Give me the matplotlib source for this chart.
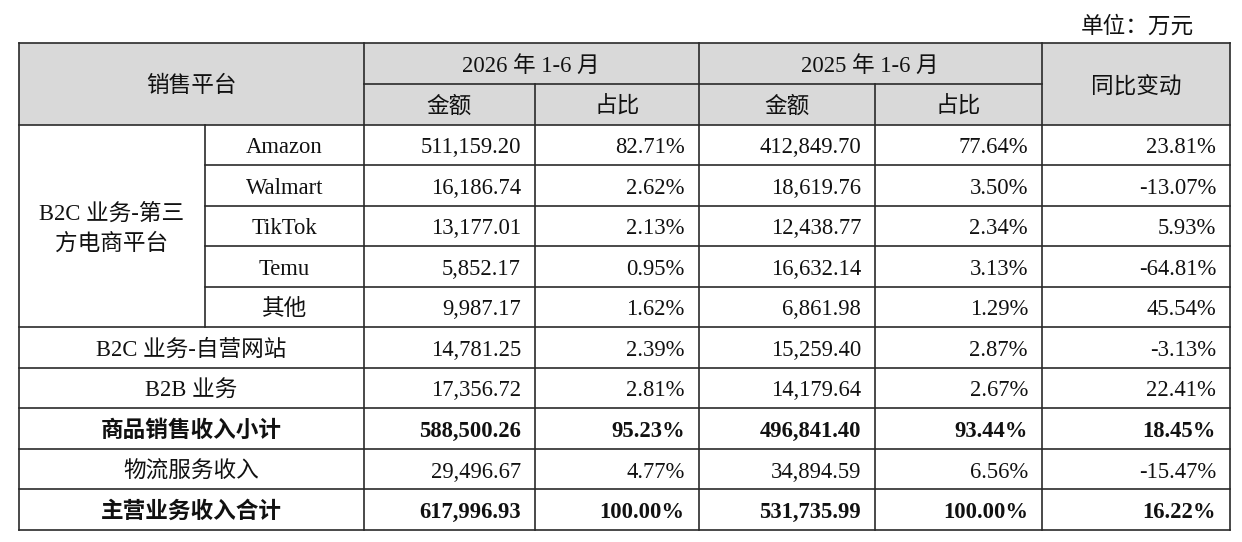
import matplotlib
matplotlib.use('Agg')
import matplotlib.pyplot as plt
from matplotlib.patches import Rectangle

plt.rcParams['font.family'] = ['Liberation Serif', 'Noto Sans CJK SC']

# table data (万元)
group_label = ['B2C 业务-第三', '方电商平台']
platforms = ['Amazon', 'Walmart', 'TikTok', 'Temu', '其他']
other_rows = ['B2C 业务-自营网站', 'B2B 业务', '商品销售收入小计', '物流服务收入', '主营业务收入合计']
bold_rows = ['商品销售收入小计', '主营业务收入合计']

amt_2026 = [511159.20, 16186.74, 13177.01, 5852.17, 9987.17,
            14781.25, 17356.72, 588500.26, 29496.67, 617996.93]
pct_2026 = [82.71, 2.62, 2.13, 0.95, 1.62, 2.39, 2.81, 95.23, 4.77, 100.00]
amt_2025 = [412849.70, 18619.76, 12438.77, 16632.14, 6861.98,
            15259.40, 14179.64, 496841.40, 34894.59, 531735.99]
pct_2025 = [77.64, 3.50, 2.34, 3.13, 1.29, 2.87, 2.67, 93.44, 6.56, 100.00]
yoy = [23.81, -13.07, 5.93, -64.81, 45.54, -3.13, 22.41, 18.45, -15.47, 16.22]

periods = ['2026 年 1-6 月', '2025 年 1-6 月']
sub_headers = ['金额', '占比']

# layout in pixels
col_x = [18.5, 205, 363.5, 535, 698.5, 875, 1042, 1230]
row_y = [43, 83.5, 124.5, 165, 205.5, 246, 286.5, 327, 367.5, 408, 449, 489, 530]
fs = 16.3
base_off = 8.6          # baseline offset below cell centre
txt_color = '#111111'
line_color = '#2a2a2a'
lw = 1.2
pad = 14

fig = plt.figure(figsize=(12.42, 5.42), dpi=100)
ax = fig.add_axes([0, 0, 1, 1])
ax.set_xlim(0, 1242)
ax.set_ylim(542, 0)
ax.axis('off')

# header background
ax.add_patch(Rectangle((col_x[0], row_y[0]), col_x[-1] - col_x[0], row_y[2] - row_y[0],
                       facecolor='#d9d9d9', edgecolor='none', zorder=0))

def hline(y, x0, x1):
    ax.plot([x0, x1], [y, y], color=line_color, lw=lw, solid_capstyle='projecting')

def vline(x, y0, y1):
    ax.plot([x, x], [y0, y1], color=line_color, lw=lw, solid_capstyle='projecting')

# horizontal rules
hline(row_y[0], col_x[0], col_x[-1])
hline(row_y[1], col_x[2], col_x[6])
hline(row_y[2], col_x[0], col_x[-1])
for i in range(3, 7):
    hline(row_y[i], col_x[1], col_x[-1])
for i in range(7, 13):
    hline(row_y[i], col_x[0], col_x[-1])

# vertical rules
vline(col_x[0], row_y[0], row_y[-1])
vline(col_x[1], row_y[2], row_y[7])
vline(col_x[2], row_y[0], row_y[-1])
vline(col_x[3], row_y[1], row_y[-1])
vline(col_x[4], row_y[0], row_y[-1])
vline(col_x[5], row_y[1], row_y[-1])
vline(col_x[6], row_y[0], row_y[-1])
vline(col_x[7], row_y[0], row_y[-1])

def cell_text(x, yc, s, ha='center', bold=False):
    ax.text(x, yc + base_off, s, ha=ha, va='baseline', fontsize=fs, color=txt_color,
            fontweight='bold' if bold else 'normal')

def mid(a, b):
    return (a + b) / 2

# unit note
cell_text(col_x[-1] - 36, 24, '单位：万元', ha='right')

# header
cell_text(mid(col_x[0], col_x[2]), mid(row_y[0], row_y[2]), '销售平台')
cell_text(mid(col_x[6], col_x[7]), mid(row_y[0], row_y[2]), '同比变动')
for k, p in enumerate(periods):
    c = 2 + 2 * k
    cell_text(mid(col_x[c], col_x[c + 2]), mid(row_y[0], row_y[1]), p)
    for j, sh in enumerate(sub_headers):
        cell_text(mid(col_x[c + j], col_x[c + j + 1]), mid(row_y[1], row_y[2]), sh)

# row labels
gc = mid(row_y[2], row_y[7])
for k, line in enumerate(group_label):
    cell_text(mid(col_x[0], col_x[1]), gc + (k - 0.5) * 30, line)
for i, name in enumerate(platforms):
    cell_text(mid(col_x[1], col_x[2]), mid(row_y[2 + i], row_y[3 + i]), name)
for i, name in enumerate(other_rows):
    r = 2 + len(platforms) + i
    cell_text(mid(col_x[0], col_x[2]), mid(row_y[r], row_y[r + 1]), name, bold=name in bold_rows)

# numbers
all_labels = platforms + other_rows
for i in range(len(amt_2026)):
    r = 2 + i
    yc = mid(row_y[r], row_y[r + 1])
    b = all_labels[i] in bold_rows
    vals = [f'{amt_2026[i]:,.2f}', f'{pct_2026[i]:.2f}%',
            f'{amt_2025[i]:,.2f}', f'{pct_2025[i]:.2f}%', f'{yoy[i]:.2f}%']
    for j, s in enumerate(vals):
        cell_text(col_x[3 + j] - pad, yc, s, ha='right', bold=b)

fig.savefig('out.png', dpi=100, facecolor='white')
